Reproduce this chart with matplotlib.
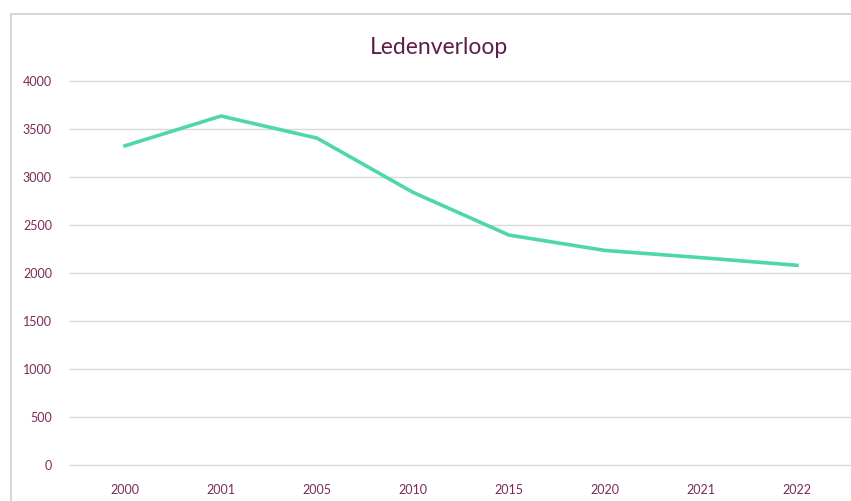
import matplotlib.pyplot as plt
from matplotlib.lines import Line2D

YEARS = ["2000", "2001", "2005", "2010", "2015", "2020", "2021", "2022"]
MEMBERS = [3325, 3635, 3405, 2840, 2395, 2235, 2160, 2080]
Y_TICKS = [0, 500, 1000, 1500, 2000, 2500, 3000, 3500, 4000]

LINE_COLOR = "#4fd8a6"
TEXT_COLOR = "#7b2a57"
TITLE_COLOR = "#5e1f47"
GRID_COLOR = "#d9d9d9"

plt.rcParams["font.family"] = ["Lato", "DejaVu Sans"]

fig = plt.figure(figsize=(8.51, 5.01), dpi=100)
ax = fig.add_axes([70 / 851, 36 / 501, 781 / 851, (465 - 81) / 501])

x = range(len(YEARS))
ax.plot(x, MEMBERS, color=LINE_COLOR, linewidth=2.6, solid_joinstyle="round")

# one category = ~96 px, first category centred ~55 px from the plot's left edge
ax.set_xlim(-55 / 96, (781 - 55) / 96)
ax.set_ylim(0, 4000)
ax.set_xticks(list(x))
ax.set_xticklabels(YEARS)
ax.set_yticks(Y_TICKS)
for t in Y_TICKS:
    ax.axhline(t, color=GRID_COLOR, linewidth=1, clip_on=False, zorder=0)
for s in ax.spines.values():
    s.set_visible(False)
ax.tick_params(axis="both", length=0, labelsize=9, colors=TEXT_COLOR)
ax.tick_params(axis="x", pad=14)
ax.tick_params(axis="y", pad=13)

fig.text(439 / 851, 1 - 47 / 501, "Ledenverloop", ha="center", va="center",
         fontsize=16.5, color=TITLE_COLOR)

# chart area border (cropped screenshot of an Excel chart)
fig.add_artist(Line2D([11 / 851, 1], [1 - 14 / 501, 1 - 14 / 501],
                      transform=fig.transFigure, color="#d0d0d0", linewidth=1.2))
fig.add_artist(Line2D([11 / 851, 11 / 851], [0, 1 - 14 / 501],
                      transform=fig.transFigure, color="#d0d0d0", linewidth=1.2))

fig.savefig("out.png", dpi=100)
